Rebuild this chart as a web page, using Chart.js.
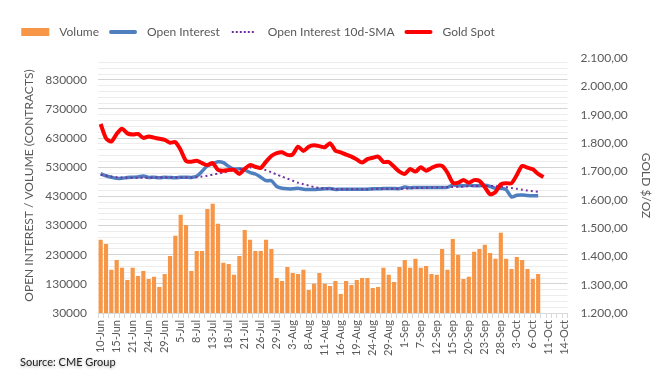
<!DOCTYPE html>
<html>
<head>
<meta charset="utf-8">
<script src="https://cdn.jsdelivr.net/npm/chart.js@4.4.0/dist/chart.umd.min.js"></script>
<style>
  html, body { margin: 0; padding: 0; background: #fff; }
  #wrap { width: 670px; height: 384px; }
</style>
</head>
<body>
<div id="wrap"><canvas id="canvas" width="670" height="384"></canvas></div>
<script>
const dates = [
  '10-Jun','13-Jun','14-Jun','15-Jun','16-Jun','17-Jun','21-Jun','22-Jun','23-Jun','24-Jun','27-Jun','28-Jun','29-Jun','30-Jun',
  '1-Jul','5-Jul','6-Jul','7-Jul','8-Jul','11-Jul','12-Jul','13-Jul','14-Jul','15-Jul','18-Jul','19-Jul','20-Jul','21-Jul','22-Jul','25-Jul','26-Jul','27-Jul','28-Jul','29-Jul',
  '1-Aug','2-Aug','3-Aug','4-Aug','5-Aug','8-Aug','9-Aug','10-Aug','11-Aug','12-Aug','15-Aug','16-Aug','17-Aug','18-Aug','19-Aug','22-Aug','23-Aug','24-Aug','25-Aug','26-Aug','29-Aug','30-Aug','31-Aug',
  '1-Sep','2-Sep','6-Sep','7-Sep','8-Sep','9-Sep','12-Sep','13-Sep','14-Sep','15-Sep','16-Sep','19-Sep','20-Sep','21-Sep','22-Sep','23-Sep','26-Sep','27-Sep','28-Sep','29-Sep','30-Sep',
  '3-Oct','4-Oct','5-Oct','6-Oct','7-Oct','10-Oct','11-Oct','12-Oct','13-Oct','14-Oct'
];

// volume, thousands of contracts
const volume = [
  281,267,178,212,185,143,185,157,174,147,154,119,164,226,295,367,332,174,243,243,
  387,405,336,202,198,161,226,315,281,243,243,281,250,150,140,188,167,164,178,109,
  130,167,130,123,140,95,140,126,143,150,150,116,119,185,161,136,188,212,185,216,
  185,191,164,161,250,178,284,229,147,154,240,250,264,236,216,305,216,181,222,212,
  181,147,164
];
// open interest, thousands
const openInterest = [
  508,501,496,492,492,495,496,497,500,495,496,494,496,495,494,496,496,495,499,516,
  535,542,549,546,533,524,525,521,512,507,496,484,484,464,458,456,456,458,455,454,
  454,455,456,457,454,455,455,455,455,455,455,456,456,457,457,457,457,462,460,461,
  461,461,461,461,461,461,469,467,467,468,467,467,468,464,458,458,453,428,434,435,
  433,432,432
];
const oiSma = [
  504,501,498,496,495,494,494,494,494,494,495,495,495,495,495,495,495,495,496,498,
  501,505,508,512,517,520,524,527,529,528,525,520,513,505,498,491,484,477,472,467,
  462,459,457,456,455,455,455,455,455,455,455,455,456,456,456,456,456,457,458,459,
  460,460,461,461,461,462,462,463,464,465,466,466,466,466,465,464,462,459,456,453,
  450,448,446
];
const goldSpot = [
  1867,1817,1805,1832,1850,1834,1830,1832,1818,1823,1819,1815,1811,1801,1803,1775,1737,1734,1737,1729,
  1722,1729,1705,1702,1705,1705,1691,1709,1722,1716,1712,1734,1754,1764,1767,1758,1760,1787,1772,1787,
  1792,1789,1785,1799,1773,1767,1759,1752,1742,1731,1743,1748,1752,1733,1733,1716,1699,1691,1708,1699,
  1714,1702,1712,1720,1719,1695,1660,1660,1669,1660,1669,1666,1644,1619,1627,1654,1658,1658,1687,1719,
  1713,1707,1691,1680
];

const leftTicks = [30000,130000,230000,330000,430000,530000,630000,730000,830000];
const rightTicks = [1200,1300,1400,1500,1600,1700,1800,1900,2000,2100];

const FONT = 'Lato, "Open Sans", sans-serif';
const GREY = '#595959';
const ORANGE = '#f79646';
const BLUE = '#4f7fbf';
const PURPLE = '#7030a0';
const RED = '#ff0000';

function euro(v){
  var s = Math.round(v).toString();
  s = s.replace(/\B(?=(\d{3})+(?!\d))/g, '.');
  return s + ',00';
}

// legend + source note drawn by hand, Excel style
const decor = {
  id: 'decor',
  afterDraw(chart){
    const ctx = chart.ctx;
    ctx.save();
    ctx.font = '12px ' + FONT;
    ctx.textBaseline = 'middle';
    const y = 32;
    const items = [
      { kind: 'box', text: 'Volume' },
      { kind: 'line', color: BLUE, w: 4, text: 'Open Interest' },
      { kind: 'dot', color: PURPLE, w: 2, text: 'Open Interest 10d-SMA' },
      { kind: 'line', color: RED, w: 4, text: 'Gold Spot' }
    ];
    const mark = 28, gapA = 10, gapB = 10;
    var total = 0;
    items.forEach(it => { it.tw = ctx.measureText(it.text).width; total += mark + gapA + it.tw; });
    total += gapB * (items.length - 1);
    var x = 258 - total / 2;
    items.forEach(it => {
      if (it.kind === 'box') {
        ctx.fillStyle = ORANGE;
        ctx.fillRect(x, 28, mark, 8);
      } else {
        ctx.strokeStyle = it.color;
        ctx.lineWidth = it.w;
        ctx.lineCap = it.kind === 'dot' ? 'butt' : 'round';
        ctx.setLineDash(it.kind === 'dot' ? [2, 2] : []);
        ctx.beginPath(); ctx.moveTo(x + 2, y); ctx.lineTo(x + mark - 2, y); ctx.stroke();
        ctx.setLineDash([]);
      }
      x += mark + gapA;
      ctx.fillStyle = GREY;
      ctx.fillText(it.text, x, y);
      x += it.tw + gapB;
    });
    // source
    ctx.font = '11px ' + FONT;
    ctx.fillStyle = '#222';
    ctx.shadowColor = 'rgba(0,0,0,0.35)';
    ctx.shadowBlur = 3;
    ctx.shadowOffsetY = 1;
    ctx.fillText('Source: CME Group', 20, 362);
    ctx.restore();
  }
};

const data = {
  labels: dates,
  datasets: [
    {
      type: 'bar',
      label: 'Volume',
      data: volume.map(v => v * 1000),
      backgroundColor: ORANGE,
      barPercentage: 0.78,
      categoryPercentage: 1,
      yAxisID: 'y',
      order: 3
    },
    {
      type: 'line',
      label: 'Open Interest',
      data: openInterest.map(v => v * 1000),
      borderColor: BLUE,
      borderWidth: 3.5,
      pointRadius: 0,
      tension: 0.25,
      yAxisID: 'y',
      order: 2
    },
    {
      type: 'line',
      label: 'Open Interest 10d-SMA',
      data: oiSma.map(v => v * 1000),
      borderColor: PURPLE,
      borderWidth: 2,
      borderDash: [2, 3],
      pointRadius: 0,
      tension: 0.25,
      yAxisID: 'y',
      order: 1
    },
    {
      type: 'line',
      label: 'Gold Spot',
      data: goldSpot,
      borderColor: RED,
      borderWidth: 4,
      pointRadius: 0,
      tension: 0.25,
      yAxisID: 'y1',
      order: 0
    }
  ]
};

const config = {
  type: 'bar',
  data: data,
  plugins: [decor],
  options: {
    responsive: false,
    animation: false,
    layout: { padding: { top: 58, left: 0, right: 0, bottom: 0 } },
    plugins: {
      legend: { display: false },
      tooltip: { enabled: false }
    },
    scales: {
      x: {
        offset: true,
        afterFit(scale){ scale.height = 71; },
        border: { color: '#d9d9d9' },
        grid: { drawOnChartArea: false, drawTicks: true, tickLength: 5, color: '#d9d9d9', offset: true },
        ticks: {
          autoSkip: false, maxRotation: 90, minRotation: 90,
          font: { family: FONT, size: 11 }, color: GREY, padding: 2,
          callback: (v, i) => (i % 3 === 0 ? dates[i] : '')
        }
      },
      y: {
        position: 'left',
        min: 30000,
        max: 905000,
        afterFit(scale){ scale.width = 98; },
        afterBuildTicks(scale){
          var t = [];
          for (var v = 30000; v <= 890000; v += 20000) t.push({ value: v });
          scale.ticks = t;
        },
        border: { display: false },
        grid: {
          drawTicks: false,
          color: c => (leftTicks.indexOf(c.tick.value) >= 0 ? '#d4d4d4' : '#ececec')
        },
        ticks: {
          autoSkip: false,
          font: { family: FONT, size: 12 }, color: GREY, padding: 11,
          callback: v => (leftTicks.indexOf(v) >= 0 ? String(v) : '')
        },
        title: {
          display: true,
          text: 'OPEN INTEREST / VOLUME (CONTRACTS)',
          font: { family: FONT, size: 12 }, color: GREY,
          padding: { top: 22, bottom: 0 }
        }
      },
      y1: {
        position: 'right',
        min: 1200,
        max: 2100,
        afterFit(scale){ scale.width = 102.5; },
        afterBuildTicks(scale){ scale.ticks = rightTicks.map(v => ({ value: v })); },
        border: { display: false },
        grid: { drawOnChartArea: false, drawTicks: false },
        ticks: {
          autoSkip: false,
          font: { family: FONT, size: 12 }, color: GREY, padding: 13,
          callback: v => euro(v)
        },
        title: {
          display: true,
          text: 'GOLD $/OZ',
          font: { family: FONT, size: 12 }, color: GREY,
          padding: { top: 17, bottom: 0 }
        }
      }
    }
  }
};

const canvas = document.getElementById('canvas');
const chart = new Chart(canvas, config);
</script>
</body>
</html>
